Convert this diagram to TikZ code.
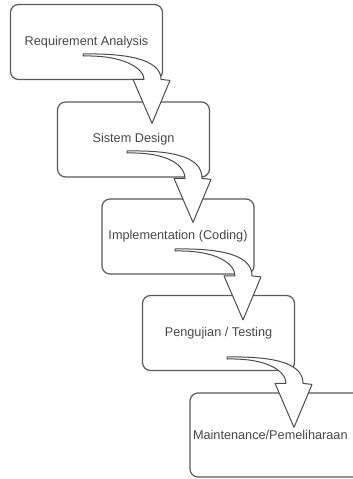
\documentclass[tikz,border=0pt]{standalone}
\usepackage{fontspec}
\setmainfont{Liberation Sans}
\usetikzlibrary{calc}

\tikzset{
  stage/.style={draw=black!65, line width=1.2pt, rounded corners=8pt,
    minimum width=152pt, minimum height=75pt, inner sep=0pt,
    text=black!72, font=\fontsize{12.7}{15}\selectfont},
  bendarrow/.style={draw=black!70, line width=1pt, fill=white, line join=round}
}

% curved block arrow: #1 start inside a box, #2 tip inside the next box
\newcommand{\stagearrow}[2]{%
  \draw[bendarrow] ($(#1)+(0,-1)$) .. controls ($(#1)+(55,-2)$) and ($(#2 |- #1)+(9,8)$) .. ($(#2)+(9,-44)$)
    -- ($(#2)+(18,-43)$) -- (#2) -- ($(#2)+(-19,-44)$) -- ($(#2)+(-8,-44)$)
    .. controls ($(#2 |- #1)+(-8,14)$) and ($(#1)+(42,0)$) .. ($(#1)+(0,1)$) -- cycle;
}

\begin{document}
\begin{tikzpicture}[x=1pt, y=-1pt]

\useasboundingbox (0,0) rectangle (353,479);
\clip (0,0) rectangle (353,479);

% Draw the stages
\node[stage] (req) at (86.5,42) {Requirement Analysis};
\node[stage] (design) at (133.5,139.5) {Sistem Design};
\node[stage] (impl) at (178,236.5) {Implementation (Coding)};
\node[stage] (test) at (218.5,333) {Pengujian / Testing};
\node[stage, minimum width=172pt, minimum height=84pt, text width=166pt, align=left] (maint) at (276,435) {Maintenance/Pemeliharaan};

% Arrow ends
\coordinate (s1) at ($(req.center)+(-3.5,13)$);
\coordinate (t1) at ($(design.north)+(18.5,22)$);
\coordinate (s2) at ($(design.center)+(-6.5,12.5)$);
\coordinate (t2) at ($(impl.north)+(15,24)$);
\coordinate (s3) at ($(impl.center)+(-3,13.5)$);
\coordinate (t3) at ($(test.north)+(24.5,25)$);
\coordinate (s4) at ($(test.center)+(8.5,25)$);
\coordinate (t4) at ($(maint.north)+(18,35)$);

% Draw the arrows
\foreach \i in {1,...,4} {
    \stagearrow{s\i}{t\i}
}

\end{tikzpicture}
\end{document}
